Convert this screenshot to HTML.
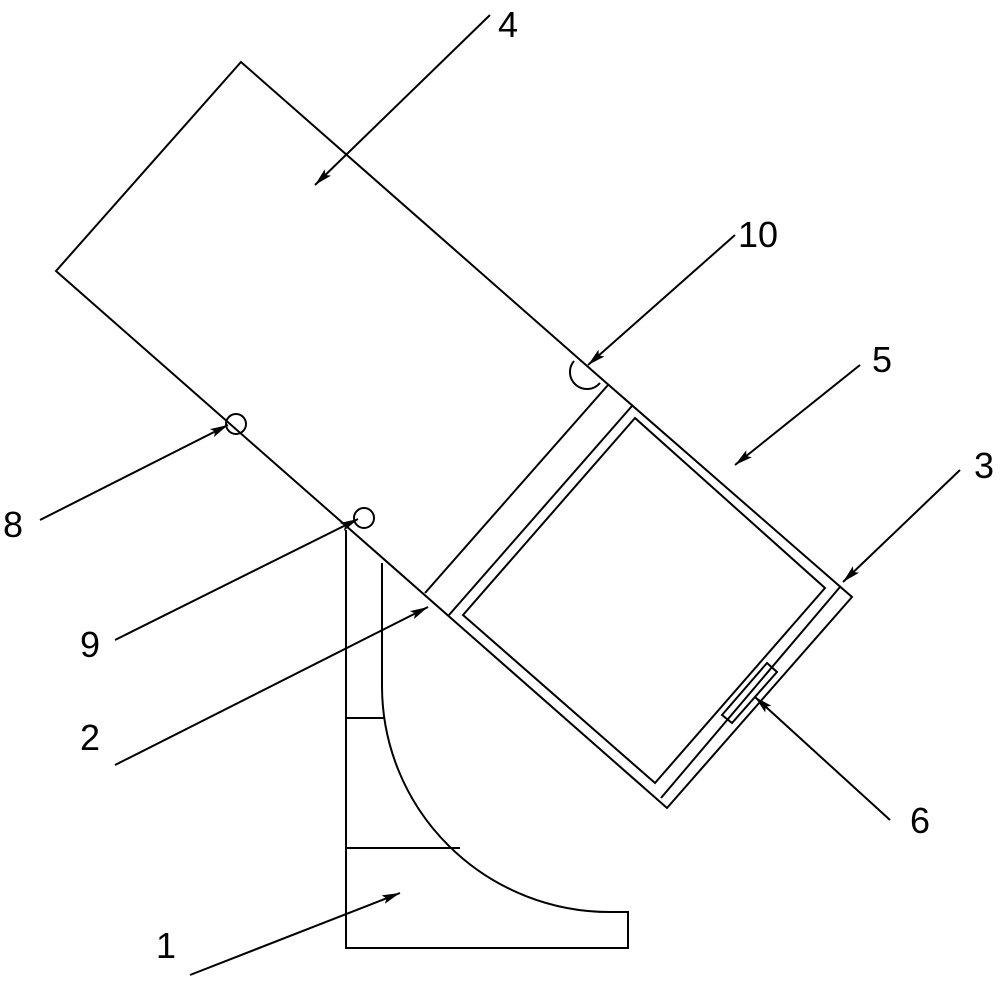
<!DOCTYPE html>
<html><head><style>
html,body{margin:0;padding:0;background:#fff;}
svg{display:block;}
text{font-family:"Liberation Sans","DejaVu Sans",sans-serif;font-size:36px;fill:#000;}
</style></head><body>
<svg width="1000" height="997" viewBox="0 0 1000 997" xmlns="http://www.w3.org/2000/svg">
<defs>
<marker id="a" viewBox="0 0 20 10" refX="20" refY="5" markerWidth="22" markerHeight="9" orient="auto" markerUnits="userSpaceOnUse">
<path d="M0,0 L20,5 L0,10 L4,5 z" fill="#000"/>
</marker>
</defs>
<g fill="none" stroke="#000" stroke-width="2">
<polyline points="603,380 241,62 56,271 667,808 852,597 603,380"/>
<line x1="425" y1="593" x2="608" y2="385"/>
<line x1="449" y1="615" x2="632" y2="406"/>
<line x1="840" y1="587" x2="661" y2="798"/>
<polygon points="635,418 463,615 655,783 825,588"/>
<polygon points="767,663 777,672 732,723 722,715"/>
<polyline points="346,530 346,948 628,948 628,912 610,912"/>
<path d="M382,563 L382,686 A228,226 0 0 0 610,912"/>
<line x1="346" y1="718" x2="385" y2="718"/>
<line x1="346" y1="848" x2="460" y2="848"/>
<circle cx="236" cy="424" r="10"/>
<circle cx="364" cy="518" r="10"/>
<path d="M574,361 A15,15 0 0 0 600,383"/>
</g>
<g stroke="#000" stroke-width="2" fill="none" marker-end="url(#a)">
<line x1="490" y1="15" x2="315" y2="185"/>
<line x1="735" y1="235" x2="588" y2="365"/>
<line x1="860" y1="365" x2="735" y2="465"/>
<line x1="960" y1="470" x2="843" y2="582"/>
<line x1="890" y1="820" x2="755" y2="697"/>
<line x1="40" y1="520" x2="228" y2="425"/>
<line x1="115" y1="640" x2="358" y2="519"/>
<line x1="115" y1="765" x2="428" y2="607"/>
<line x1="190" y1="975" x2="400" y2="893"/>
</g>
<text x="498" y="37">4</text>
<text x="738" y="247">10</text>
<text x="872" y="372">5</text>
<text x="974" y="478">3</text>
<text x="910" y="833">6</text>
<text x="3" y="537">8</text>
<text x="80" y="657">9</text>
<text x="80" y="750">2</text>
<text x="156" y="958">1</text>
</svg>
</body></html>
